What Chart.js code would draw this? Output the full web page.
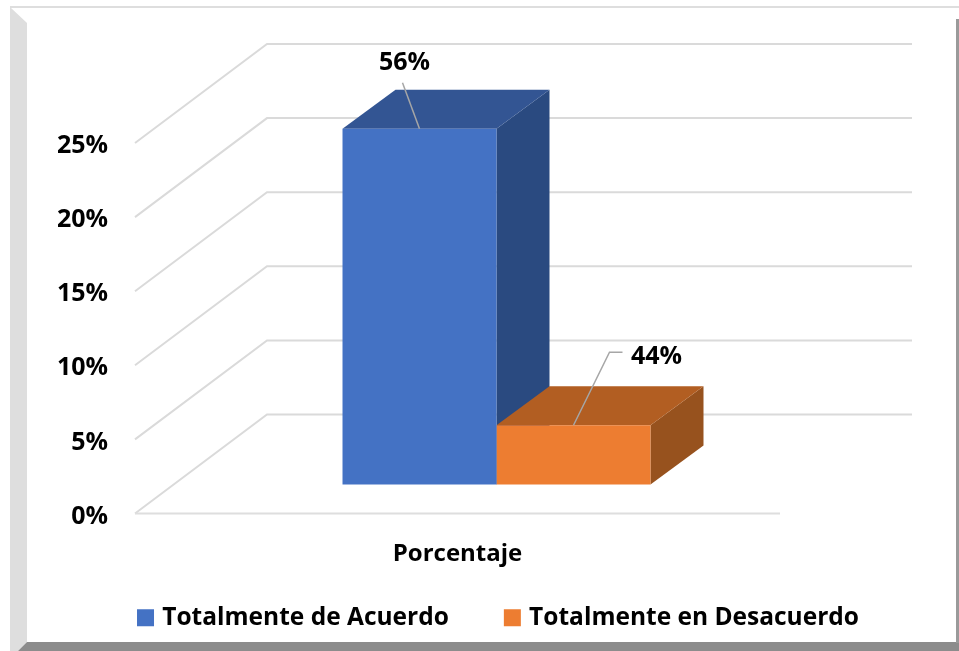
<!DOCTYPE html>
<html>
<head>
<meta charset="utf-8">
<title>Porcentaje</title>
<script src="https://cdn.jsdelivr.net/npm/chart.js@4"></script>
<style>
  html, body { margin: 0; padding: 0; background: #fff; }
  #wrap { position: relative; width: 959px; height: 651px; overflow: hidden; }
  #wrap div { position: absolute; }
  #frame-top { left: 10px; top: 6px; width: 949px; height: 2px; background: #dedede; }
  #frame-left { left: 10px; top: 7px; width: 17px; height: 644px; background: #dedede; clip-path: polygon(0 0, 100% 16px, 100% 635px, 8px 100%, 0 100%); }
  #frame-bottom { left: 18px; top: 642px; width: 941px; height: 9px; background: #8c8c8c; clip-path: polygon(9px 0, 100% 0, 100% 100%, 0 100%); }
  #frame-right { left: 956px; top: 19px; width: 3px; height: 624px; background: #9a9a9a; }
  canvas { position: absolute; left: 0; top: 0; }
</style>
</head>
<body>
<div id="wrap">
  <div id="frame-top"></div>
  <div id="frame-left"></div>
  <div id="frame-bottom"></div>
  <div id="frame-right"></div>
  <canvas id="chart" width="959" height="651"></canvas>
</div>
<script>
  const categories = ['Porcentaje'];
  const seriesNames = ['Totalmente de Acuerdo', 'Totalmente en Desacuerdo'];
  const seriesValues = [[24], [4]];
  const shownLabels = ['56%', '44%'];
  const frontColors = ['#4472c4', '#ed7d31'];
  const topColors = ['#335593', '#b25e22'];
  const sideColors = ['#2a4a80', '#97521e'];

  const FONT = '"Open Sans", sans-serif';
  const GRID = '#dadada';
  const WALL = { dx: 132, dy: -99 };      // floor depth, front edge to back wall
  const BAR_SHIFT = { dx: 39, dy: -29 };  // bars stand part way back on the floor
  const BAR_DEPTH = { dx: 53, dy: -39 };

  // leader lines and labels, relative to the top centre of the front face
  const leaders = [
    { text: [-15, -66], line: [[0, 0], [-17, -46]] },
    { text: [83, -68], line: [[0, 0], [36, -73], [49, -73]] },
  ];

  function face(ctx, pts, color) {
    ctx.fillStyle = color;
    ctx.beginPath();
    pts.forEach((p, i) => (i ? ctx.lineTo(p[0], p[1]) : ctx.moveTo(p[0], p[1])));
    ctx.closePath();
    ctx.fill();
  }

  const perspective = {
    id: 'perspective',
    afterLayout(chart) {
      // the wide item gap also pads the row above, so pull the row back up
      chart.legend.top -= 24;
      chart.legend.bottom -= 24;
    },
    beforeDatasetsDraw(chart) {
      const { ctx, chartArea, scales } = chart;
      ctx.save();
      ctx.strokeStyle = GRID;
      ctx.lineWidth = 2;
      scales.y.ticks.forEach((t) => {
        const y = scales.y.getPixelForValue(t.value);
        ctx.beginPath();
        ctx.moveTo(chartArea.left, y);
        ctx.lineTo(chartArea.left + WALL.dx, y + WALL.dy);
        ctx.lineTo(chartArea.right + WALL.dx, y + WALL.dy);
        ctx.stroke();
      });
      const y0 = scales.y.getPixelForValue(0);
      ctx.strokeStyle = '#dedede';
      ctx.beginPath();
      ctx.moveTo(chartArea.left, y0);
      ctx.lineTo(chartArea.right, y0);
      ctx.stroke();

      ctx.translate(BAR_SHIFT.dx, BAR_SHIFT.dy);
      seriesValues.forEach((_, i) => {
        const bar = chart.getDatasetMeta(i).data[0];
        const l = bar.x - bar.width / 2;
        const r = bar.x + bar.width / 2;
        const d = BAR_DEPTH;
        face(ctx, [[r, bar.y], [r + d.dx, bar.y + d.dy], [r + d.dx, bar.base + d.dy], [r, bar.base]], sideColors[i]);
        face(ctx, [[l, bar.y], [r, bar.y], [r + d.dx, bar.y + d.dy], [l + d.dx, bar.y + d.dy]], topColors[i]);
      });
    },
    afterDatasetsDraw(chart) {
      const { ctx } = chart;
      ctx.restore();
      ctx.save();
      ctx.translate(BAR_SHIFT.dx, BAR_SHIFT.dy);
      seriesValues.forEach((_, i) => {
        const bar = chart.getDatasetMeta(i).data[0];
        const lead = leaders[i];
        ctx.strokeStyle = '#a6a6a6';
        ctx.lineWidth = 1.5;
        ctx.beginPath();
        lead.line.forEach((p, k) => {
          if (k) ctx.lineTo(bar.x + p[0], bar.y + p[1]);
          else ctx.moveTo(bar.x + p[0], bar.y + p[1]);
        });
        ctx.stroke();
        ctx.fillStyle = '#000';
        ctx.font = 'bold 25px ' + FONT;
        ctx.textAlign = 'center';
        ctx.textBaseline = 'middle';
        ctx.fillText(shownLabels[i], bar.x + lead.text[0], bar.y + lead.text[1]);
      });
      ctx.restore();
    },
  };

  new Chart(document.getElementById('chart'), {
    type: 'bar',
    data: {
      labels: categories,
      datasets: seriesNames.map((name, i) => ({
        label: name,
        data: seriesValues[i],
        backgroundColor: frontColors[i],
        barPercentage: 1,
        categoryPercentage: 0.4775,
        clip: false,
      })),
    },
    plugins: [perspective],
    options: {
      responsive: false,
      animation: false,
      layout: { padding: { top: 143, right: 0, left: 41, bottom: -13 } },
      plugins: {
        tooltip: { enabled: false },
        title: { display: false },
        legend: {
          position: 'bottom',
          labels: {
            usePointStyle: true,
            pointStyle: 'rect',
            boxWidth: 9,   // narrower than the square: keeps the text close to it
            boxHeight: 17,
            padding: 59,
            color: '#000',
            font: { family: FONT, weight: 'bold', size: 24.5 },
          },
        },
      },
      scales: {
        x: {
          grid: { display: false },
          border: { display: false },
          ticks: { color: '#000', padding: 18, font: { family: FONT, weight: 'bold', size: 24 } },
          afterFit(scale) { scale.height = 57; },
        },
        y: {
          min: 0,
          max: 25,
          grid: { display: false },
          border: { display: false },
          ticks: {
            stepSize: 5,
            padding: 19,
            labelOffset: 3,
            color: '#000',
            font: { family: FONT, weight: 'bold', size: 25 },
            callback: (v) => v + '%',
          },
          afterFit(scale) { scale.width = 94; },
        },
        // empty axis that keeps the floor short of the back wall's right end
        spacer: {
          position: 'right',
          grid: { display: false },
          border: { display: false },
          ticks: { display: false },
          afterFit(scale) { scale.width = 179; },
        },
      },
    },
  });
</script>
</body>
</html>
